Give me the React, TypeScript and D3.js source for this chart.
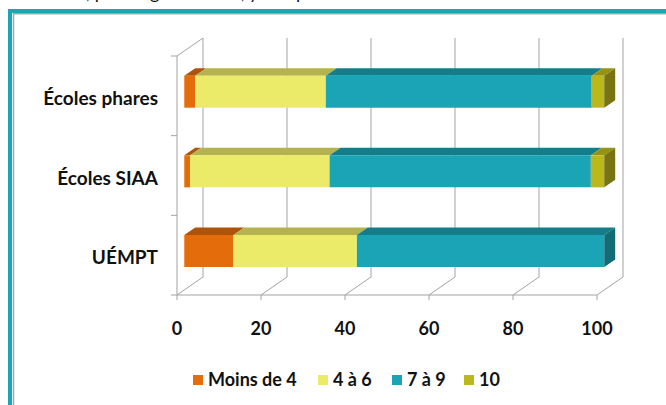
import React from "react";
import * as d3 from "d3";

const W = 666;
const H = 405;

const categories = ["Écoles phares", "Écoles SIAA", "UÉMPT"];
const seriesNames = ["Moins de 4", "4 à 6", "7 à 9", "10"];
const moinsDe4 = [2.6, 1.4, 11.7];
const de4a6 = [31.1, 33.2, 29.4];
const de7a9 = [63.3, 62.2, 58.9];
const dix = [3.0, 3.2, 0];
const xTicks = [0, 20, 40, 60, 80, 100];

const frontColors = ["#E46C0A", "#ECEB69", "#1AA4B5", "#BCB71A"];
const topColors = ["#AE530A", "#B4B34F", "#157D89", "#969214"];
const sideColors = ["#8A4108", "#8E8D3E", "#126C76", "#787411"];

const legendX = [193, 318, 392, 464];

const font = "Lato, 'DejaVu Sans', sans-serif";
const gridColor = "#A3A3A3";

// 3D wall / bar geometry
const depthX = 26;
const depthY = 18;
const barF0 = 0.28;
const barF1 = 0.7;
const barH = 32;

export default function App() {
  const x = d3.scaleLinear().domain([0, 100]).range([177, 597]);
  const y = d3.scaleBand<string>().domain(categories).range([56, 295]);

  const proj = (v: number, yy: number, f: number): [number, number] => [
    x(v) + depthX * f,
    yy - depthY * f,
  ];

  const table = categories.map((c, i) => ({
    cat: c,
    [seriesNames[0]]: moinsDe4[i],
    [seriesNames[1]]: de4a6[i],
    [seriesNames[2]]: de7a9[i],
    [seriesNames[3]]: dix[i],
  }));
  const stacked = d3.stack<any>().keys(seriesNames)(table);

  const poly = (pts: [number, number][]) => pts.map((p) => p.join(",")).join(" ");

  const yTop = y.range()[0];
  const yBot = y.range()[1];
  const bounds = [...categories.map((c) => y(c)!), yBot];

  const bars: JSX.Element[] = [];
  categories.forEach((c, ci) => {
    const cy = y(c)! + y.bandwidth() / 2;
    const t = cy - barH / 2 + depthY * 0.05;
    const b = t + barH;
    let lastIdx = -1;
    stacked.forEach((s, si) => {
      if (s[ci][1] - s[ci][0] > 0) lastIdx = si;
    });
    stacked.forEach((s, si) => {
      const v0 = s[ci][0];
      const v1 = s[ci][1];
      if (v1 - v0 <= 0) return;
      const fTL = proj(v0, t, barF0);
      const fTR = proj(v1, t, barF0);
      const fBR = proj(v1, b, barF0);
      const fBL = proj(v0, b, barF0);
      const bTL = proj(v0, t, barF1);
      const bTR = proj(v1, t, barF1);
      const bBR = proj(v1, b, barF1);
      bars.push(
        <polygon key={`t-${ci}-${si}`} points={poly([fTL, fTR, bTR, bTL])} fill={topColors[si]} />
      );
      bars.push(
        <polygon key={`f-${ci}-${si}`} points={poly([fTL, fTR, fBR, fBL])} fill={frontColors[si]} />
      );
      if (si === lastIdx) {
        bars.push(
          <polygon key={`s-${ci}-${si}`} points={poly([fTR, bTR, bBR, fBR])} fill={sideColors[si]} />
        );
      }
    });
  });

  return (
    <svg
      width={W}
      height={H}
      style={{ position: "absolute", left: 0, top: 0, background: "#fff" }}
    >
      {/* cut-off text above the chart frame */}
      <text x={88} y={-1} textAnchor="end" fontFamily={font} fontSize={18} fill="#111">
        Distribution des écoles
      </text>
      <text x={86} y={-1} fontFamily={font} fontSize={18} fill="#111">
        , par rang de centile, y compris
      </text>

      {/* frame */}
      <rect x={8} y={9} width={4} height={H} fill="#1BA6B6" />
      <rect x={8} y={9} width={W} height={4} fill="#1BA6B6" />
      <line x1={13.5} y1={13} x2={13.5} y2={H} stroke="#A6A6A6" strokeWidth={1.5} />
      <line x1={13} y1={13.75} x2={W} y2={13.75} stroke="#A6A6A6" strokeWidth={1.5} />

      {/* walls and gridlines */}
      <g stroke={gridColor} strokeWidth={1} fill="none">
        {xTicks.map((tk) => {
          const a = proj(tk, yTop, 1);
          const bb = proj(tk, yBot, 1);
          const fl = proj(tk, yBot, 0);
          return (
            <g key={`g-${tk}`}>
              <line x1={a[0]} y1={a[1]} x2={bb[0]} y2={bb[1]} />
              <line x1={fl[0]} y1={fl[1]} x2={bb[0]} y2={bb[1]} />
              <line x1={fl[0]} y1={fl[1]} x2={fl[0]} y2={fl[1] + 5} />
            </g>
          );
        })}
        <line x1={x(0)} y1={yTop} x2={x(0)} y2={yBot} />
        <line
          x1={x(0)}
          y1={yTop}
          x2={proj(0, yTop, 1)[0]}
          y2={proj(0, yTop, 1)[1]}
        />
        <line x1={x(0)} y1={yBot} x2={x(100)} y2={yBot} />
        {bounds.map((bY, i) => (
          <line key={`yt-${i}`} x1={x(0) - 6} y1={bY} x2={x(0)} y2={bY} />
        ))}
      </g>

      {bars}

      {/* category labels */}
      {categories.map((c) => (
        <text
          key={c}
          x={158}
          y={y(c)! + y.bandwidth() / 2 + 9}
          textAnchor="end"
          fontFamily={font}
          fontWeight="bold"
          fontSize={19}
          fill="#111"
        >
          {c}
        </text>
      ))}

      {/* x tick labels */}
      {xTicks.map((tk) => (
        <text
          key={`xl-${tk}`}
          x={x(tk)}
          y={335}
          textAnchor="middle"
          fontFamily={font}
          fontWeight="bold"
          fontSize={18}
          fill="#111"
        >
          {tk}
        </text>
      ))}

      {/* legend */}
      {seriesNames.map((s, i) => (
        <g key={`lg-${s}`} transform={`translate(${legendX[i]},375)`}>
          <rect x={0} y={0} width={10} height={10} fill={frontColors[i]} />
          <text x={15} y={11} fontFamily={font} fontWeight="bold" fontSize={18} fill="#111">
            {s}
          </text>
        </g>
      ))}
    </svg>
  );
}
